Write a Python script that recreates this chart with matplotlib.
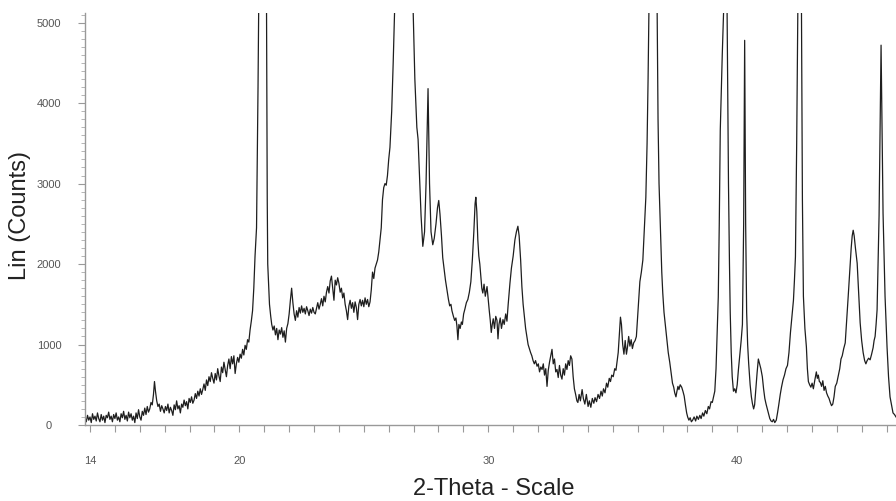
import matplotlib
matplotlib.use("Agg")
import matplotlib.pyplot as plt
from matplotlib.ticker import MultipleLocator, FixedLocator

plt.rcParams['font.family'] = ['Liberation Sans', 'DejaVu Sans']

# XRD scan, (2-theta, counts) pairs, split by region
scan_14_21 = [
    (13.80, 90), (13.85, 40), (13.90, 120), (13.95, 60), (14.00, 100), (14.05, 30),
    (14.10, 140), (14.15, 70), (14.20, 110), (14.25, 50), (14.30, 150), (14.35, 80),
    (14.40, 40), (14.45, 130), (14.50, 60), (14.55, 110), (14.60, 30), (14.65, 120),
    (14.70, 90), (14.75, 160), (14.80, 70), (14.85, 110), (14.90, 40), (14.95, 130),
    (15.00, 80), (15.05, 150), (15.10, 60), (15.15, 100), (15.20, 40), (15.25, 140),
    (15.30, 90), (15.35, 170), (15.40, 70), (15.45, 120), (15.50, 50), (15.55, 160),
    (15.60, 90), (15.65, 140), (15.70, 60), (15.75, 110), (15.80, 30), (15.85, 150),
    (15.90, 80), (15.95, 190), (16.00, 100), (16.05, 60), (16.10, 170), (16.15, 120),
    (16.20, 210), (16.25, 130), (16.30, 230), (16.35, 160), (16.40, 200), (16.45, 280),
    (16.50, 250), (16.55, 380), (16.59, 540), (16.63, 420), (16.68, 300), (16.73, 230),
    (16.78, 260), (16.83, 170), (16.88, 240), (16.93, 200), (16.98, 150), (17.03, 230),
    (17.08, 180), (17.13, 260), (17.18, 150), (17.23, 220), (17.28, 180), (17.33, 120),
    (17.38, 250), (17.43, 190), (17.48, 300), (17.53, 200), (17.58, 240), (17.63, 150),
    (17.68, 260), (17.73, 220), (17.78, 310), (17.83, 240), (17.88, 290), (17.93, 200),
    (17.98, 330), (18.03, 280), (18.08, 350), (18.13, 270), (18.18, 310), (18.23, 390),
    (18.28, 330), (18.33, 420), (18.38, 360), (18.43, 450), (18.48, 380), (18.53, 440),
    (18.58, 510), (18.63, 430), (18.68, 560), (18.73, 490), (18.78, 600), (18.83, 540),
    (18.88, 650), (18.93, 580), (18.98, 520), (19.03, 640), (19.08, 560), (19.13, 700),
    (19.18, 610), (19.23, 540), (19.28, 720), (19.33, 650), (19.38, 780), (19.43, 690),
    (19.48, 600), (19.53, 740), (19.58, 820), (19.63, 700), (19.68, 850), (19.73, 760),
    (19.78, 860), (19.83, 640), (19.88, 760), (19.93, 840), (19.98, 780), (20.03, 880),
    (20.08, 830), (20.13, 940), (20.18, 870), (20.23, 990), (20.28, 940), (20.33, 1060),
    (20.38, 1030), (20.43, 1180), (20.48, 1290), (20.53, 1420), (20.58, 1700), (20.63, 2100),
    (20.69, 2450), (20.75, 4200), (20.78, 5300), (20.93, 12000), (21.09, 5300), (21.12, 2800),
    (21.14, 2000), (21.18, 1700), (21.21, 1500), (21.26, 1350),
]

scan_21_28 = [
    (21.30, 1250), (21.35, 1180), (21.40, 1230), (21.45, 1120), (21.50, 1200), (21.55, 1060),
    (21.60, 1180), (21.65, 1130), (21.70, 1210), (21.75, 1090), (21.80, 1170), (21.85, 1030),
    (21.90, 1200), (21.95, 1260), (22.00, 1380), (22.05, 1550), (22.10, 1700), (22.15, 1520),
    (22.20, 1380), (22.25, 1300), (22.30, 1420), (22.35, 1340), (22.40, 1460), (22.45, 1390),
    (22.50, 1480), (22.55, 1400), (22.60, 1450), (22.65, 1380), (22.70, 1470), (22.75, 1420),
    (22.80, 1360), (22.85, 1440), (22.90, 1390), (22.95, 1460), (23.00, 1400), (23.05, 1380),
    (23.10, 1450), (23.15, 1520), (23.20, 1440), (23.25, 1500), (23.30, 1570), (23.35, 1480),
    (23.40, 1600), (23.45, 1530), (23.50, 1650), (23.55, 1720), (23.60, 1640), (23.65, 1790),
    (23.70, 1850), (23.75, 1700), (23.80, 1550), (23.85, 1800), (23.90, 1740), (23.95, 1830),
    (24.00, 1760), (24.05, 1650), (24.10, 1700), (24.15, 1580), (24.20, 1640), (24.25, 1500),
    (24.30, 1420), (24.35, 1310), (24.40, 1480), (24.45, 1550), (24.50, 1450), (24.55, 1520),
    (24.60, 1400), (24.65, 1530), (24.70, 1460), (24.75, 1310), (24.80, 1500), (24.85, 1560),
    (24.90, 1480), (24.95, 1550), (25.00, 1470), (25.05, 1580), (25.10, 1500), (25.15, 1560),
    (25.20, 1470), (25.25, 1530), (25.30, 1680), (25.35, 1900), (25.40, 1820), (25.45, 1950),
    (25.50, 2000), (25.55, 2050), (25.60, 2150), (25.65, 2300), (25.70, 2450), (25.75, 2800),
    (25.80, 2950), (25.85, 3000), (25.90, 2980), (25.95, 3100), (26.00, 3300), (26.05, 3450),
    (26.12, 3900), (26.18, 4500), (26.25, 5300), (26.61, 20000), (26.97, 5300), (27.05, 4300),
    (27.13, 3700), (27.18, 3550), (27.25, 3000), (27.30, 2600), (27.37, 2220), (27.44, 2400),
    (27.50, 3000), (27.58, 4180), (27.64, 3000), (27.70, 2400), (27.77, 2240), (27.83, 2320),
    (27.90, 2500), (27.96, 2700),
]

scan_28_34 = [
    (28.01, 2790), (28.06, 2620), (28.12, 2350), (28.17, 2080), (28.22, 1950), (28.28, 1800),
    (28.34, 1680), (28.40, 1560), (28.45, 1480), (28.50, 1500), (28.54, 1420), (28.60, 1350),
    (28.65, 1300), (28.70, 1330), (28.74, 1230), (28.78, 1060), (28.82, 1250), (28.87, 1200),
    (28.92, 1280), (28.96, 1250), (29.01, 1380), (29.06, 1440), (29.12, 1520), (29.18, 1560),
    (29.24, 1650), (29.30, 1780), (29.36, 2050), (29.42, 2400), (29.47, 2750), (29.50, 2830),
    (29.54, 2650), (29.58, 2300), (29.62, 2100), (29.66, 2000), (29.70, 1850), (29.74, 1700),
    (29.78, 1640), (29.83, 1750), (29.88, 1600), (29.95, 1720), (30.00, 1550), (30.04, 1420),
    (30.08, 1300), (30.12, 1150), (30.16, 1250), (30.20, 1320), (30.25, 1200), (30.30, 1350),
    (30.35, 1300), (30.39, 1070), (30.43, 1250), (30.48, 1330), (30.53, 1200), (30.59, 1310),
    (30.64, 1250), (30.70, 1380), (30.75, 1290), (30.80, 1500), (30.87, 1760), (30.93, 1950),
    (31.00, 2100), (31.07, 2300), (31.13, 2400), (31.19, 2470), (31.24, 2350), (31.30, 2050),
    (31.35, 1720), (31.40, 1500), (31.45, 1350), (31.50, 1200), (31.55, 1100), (31.60, 1000),
    (31.65, 950), (31.70, 900), (31.75, 860), (31.80, 800), (31.85, 760), (31.90, 800),
    (31.96, 730), (32.01, 760), (32.06, 660), (32.11, 720), (32.16, 690), (32.21, 760),
    (32.26, 620), (32.31, 700), (32.36, 480), (32.41, 680), (32.46, 780), (32.51, 860),
    (32.56, 940), (32.61, 760), (32.66, 820), (32.71, 660), (32.76, 690), (32.81, 590),
    (32.86, 740), (32.91, 620), (32.96, 570), (33.01, 700), (33.06, 620), (33.11, 760),
    (33.16, 690), (33.21, 800), (33.26, 740), (33.31, 860), (33.36, 820), (33.41, 600),
    (33.46, 450), (33.51, 380), (33.56, 300), (33.60, 280),
]

scan_34_40 = [
    (33.65, 380), (33.70, 300), (33.77, 440), (33.82, 330), (33.88, 260), (33.94, 380),
    (34.01, 230), (34.06, 300), (34.12, 220), (34.18, 330), (34.24, 270), (34.29, 340),
    (34.35, 290), (34.41, 380), (34.47, 330), (34.53, 420), (34.58, 360), (34.63, 450),
    (34.69, 400), (34.75, 520), (34.80, 470), (34.86, 580), (34.91, 540), (34.96, 620),
    (35.02, 600), (35.08, 700), (35.13, 680), (35.17, 780), (35.22, 900), (35.27, 1150),
    (35.31, 1340), (35.35, 1250), (35.40, 1000), (35.45, 880), (35.50, 1050), (35.55, 880),
    (35.59, 960), (35.64, 1100), (35.69, 980), (35.74, 1060), (35.79, 950), (35.84, 1020),
    (35.90, 1050), (35.95, 1100), (36.00, 1350), (36.05, 1600), (36.09, 1780), (36.15, 1900),
    (36.21, 2050), (36.27, 2450), (36.33, 2830), (36.38, 3500), (36.42, 4300), (36.46, 5300),
    (36.62, 12000), (36.78, 5300), (36.82, 3800), (36.86, 3000), (36.92, 2400), (36.97, 1900),
    (37.01, 1640), (37.06, 1400), (37.11, 1250), (37.17, 1070), (37.23, 900), (37.29, 780),
    (37.35, 640), (37.40, 520), (37.45, 470), (37.49, 400), (37.54, 350), (37.58, 420),
    (37.62, 480), (37.66, 440), (37.71, 500), (37.77, 470), (37.82, 420), (37.87, 360),
    (37.92, 250), (37.97, 150), (38.01, 100), (38.06, 60), (38.11, 90), (38.16, 40),
    (38.21, 60), (38.27, 100), (38.33, 50), (38.38, 110), (38.44, 70), (38.50, 120),
    (38.55, 80), (38.61, 150), (38.66, 110), (38.72, 180), (38.78, 140), (38.84, 230),
    (38.89, 200), (38.95, 290), (39.00, 280), (39.05, 350), (39.10, 420), (39.15, 700),
    (39.20, 1200), (39.24, 1590), (39.28, 2500), (39.32, 3660), (39.40, 4600), (39.47, 5300),
    (39.53, 11000), (39.59, 5300), (39.65, 3000), (39.69, 2000), (39.72, 1400), (39.76, 900),
    (39.80, 600), (39.85, 420), (39.90, 450), (39.95, 400),
]

scan_40_46 = [
    (40.00, 500), (40.05, 690), (40.10, 850), (40.16, 1050), (40.21, 1250), (40.26, 2500),
    (40.30, 4780), (40.34, 2500), (40.38, 1400), (40.42, 1000), (40.46, 770), (40.52, 500),
    (40.57, 350), (40.61, 270), (40.66, 200), (40.70, 250), (40.75, 450), (40.80, 650),
    (40.85, 820), (40.90, 760), (40.95, 700), (41.01, 600), (41.06, 450), (41.11, 330),
    (41.16, 260), (41.21, 200), (41.26, 140), (41.31, 80), (41.36, 50), (41.41, 40),
    (41.46, 70), (41.51, 30), (41.57, 60), (41.62, 150), (41.67, 250), (41.73, 380),
    (41.78, 470), (41.84, 560), (41.90, 620), (41.96, 700), (42.02, 740), (42.08, 900),
    (42.14, 1150), (42.20, 1350), (42.26, 1550), (42.30, 1800), (42.34, 2090), (42.39, 3500),
    (42.44, 5300), (42.51, 11000), (42.58, 5300), (42.62, 2800), (42.66, 1600), (42.72, 1200),
    (42.78, 970), (42.82, 700), (42.86, 540), (42.91, 500), (42.96, 470), (43.01, 520),
    (43.06, 450), (43.12, 560), (43.18, 660), (43.22, 580), (43.26, 620), (43.30, 540),
    (43.34, 530), (43.39, 480), (43.44, 550), (43.49, 430), (43.54, 480), (43.59, 400),
    (43.64, 360), (43.69, 330), (43.74, 280), (43.79, 240), (43.84, 260), (43.89, 350),
    (43.94, 480), (44.00, 520), (44.06, 610), (44.12, 700), (44.17, 820), (44.22, 860),
    (44.28, 950), (44.34, 1020), (44.40, 1300), (44.46, 1600), (44.52, 1900), (44.58, 2200),
    (44.62, 2350), (44.66, 2420), (44.70, 2350), (44.75, 2200), (44.82, 2010), (44.88, 1650),
    (44.94, 1270), (45.00, 1050), (45.06, 900), (45.12, 800), (45.17, 760), (45.22, 800),
    (45.28, 830), (45.34, 810), (45.40, 880), (45.46, 960), (45.50, 1050), (45.54, 1100),
    (45.58, 1250), (45.62, 1430), (45.70, 2600), (45.78, 4720), (45.86, 2630), (45.94, 1600),
    (46.02, 970), (46.08, 600), (46.14, 350), (46.20, 250), (46.26, 150), (46.32, 130),
    (46.38, 100),
]

x_major = [14, 20, 30, 40]
y_major = [0, 1000, 2000, 3000, 4000, 5000]

scan = scan_14_21 + scan_21_28 + scan_28_34 + scan_34_40 + scan_40_46
two_theta = [p[0] for p in scan]
counts = [p[1] for p in scan]

fig = plt.figure(figsize=(8.96, 5.01), dpi=100)
ax = fig.add_axes([0.0949, 0.1517, 0.9051, 0.8224])

ax.plot(two_theta, counts, color='#1e1e1e', linewidth=0.9)

ax.set_xlim(13.8, 46.38)
ax.set_ylim(0, 5120)

for side in ['top', 'right']:
    ax.spines[side].set_visible(False)
for side in ['left', 'bottom']:
    ax.spines[side].set_color('#999999')
    ax.spines[side].set_linewidth(1.0)

ax.xaxis.set_major_locator(FixedLocator(x_major))
ax.xaxis.set_minor_locator(MultipleLocator(1))
ax.yaxis.set_major_locator(FixedLocator(y_major))
ax.yaxis.set_minor_locator(MultipleLocator(100))

ax.tick_params(axis='x', which='both', direction='out', length=5, width=0.8,
               color='#999999', labelsize=8, labelcolor='#555555', pad=17)
ax.tick_params(axis='y', which='major', direction='out', length=5, width=0.8,
               color='#999999', labelsize=8, labelcolor='#555555', pad=21)
ax.tick_params(axis='y', which='minor', direction='out', length=3, width=0.6,
               color='#aaaaaa')
for lab in ax.get_yticklabels():
    lab.set_horizontalalignment('center')

fig.text(20 / 896, 1 - 215 / 501, 'Lin (Counts)', rotation=90, fontsize=17,
         color='#222222', ha='center', va='center')
fig.text(494 / 896, 1 - 489 / 501, '2-Theta - Scale', fontsize=17,
         color='#222222', ha='center', va='center')

fig.savefig('out.png', dpi=100)
